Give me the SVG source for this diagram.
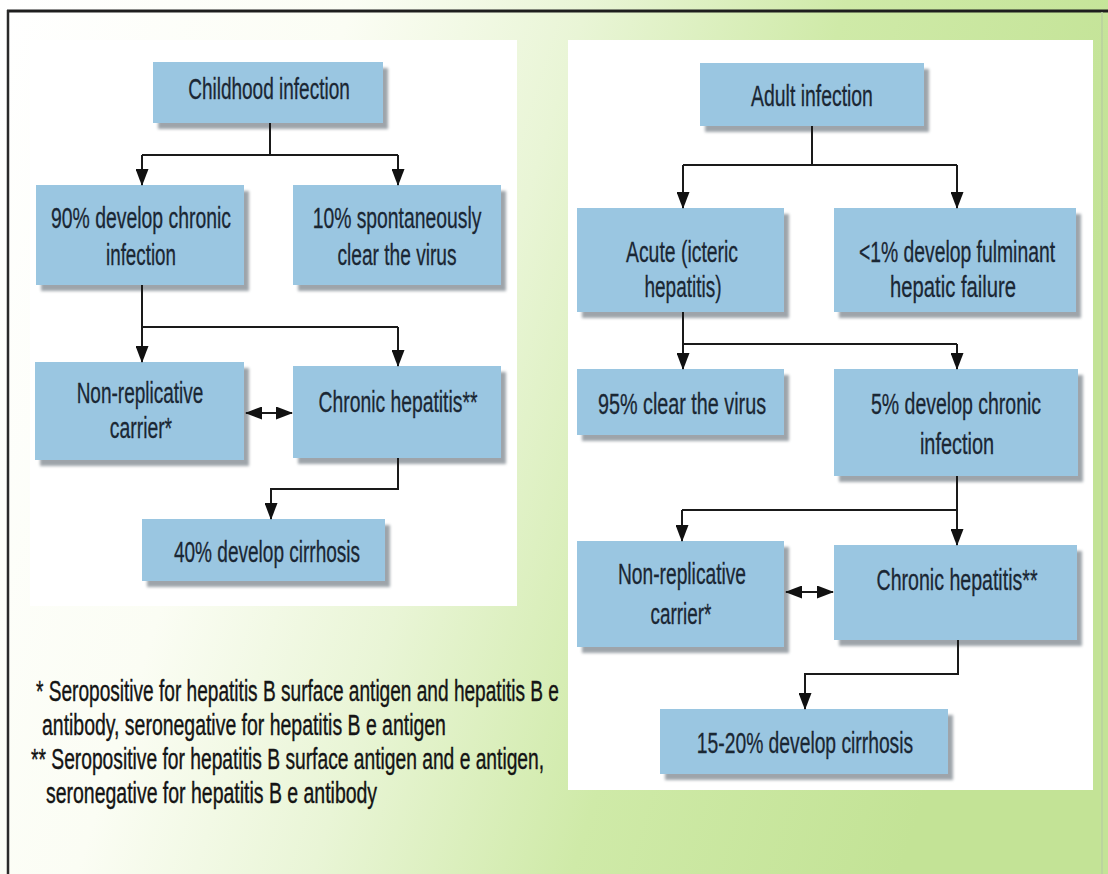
<svg xmlns="http://www.w3.org/2000/svg" width="1108" height="874" viewBox="0 0 1108 874">
<defs>
<linearGradient id="bg" x1="0" y1="0" x2="1" y2="0.25">
<stop offset="0" stop-color="#ffffff"/>
<stop offset="0.3" stop-color="#fbfdf4"/>
<stop offset="0.5" stop-color="#e9f5d6"/>
<stop offset="0.72" stop-color="#cfeaa8"/>
<stop offset="1" stop-color="#c3e396"/>
</linearGradient>
<filter id="blur" x="-10%" y="-10%" width="120%" height="130%">
<feGaussianBlur stdDeviation="1.5"/>
</filter>
<marker id="ah" markerUnits="userSpaceOnUse" markerWidth="17" markerHeight="13" viewBox="0 0 17 13" refX="16" refY="6.5" orient="auto-start-reverse">
<path d="M0,0 L17,6.5 L0,13 Z" fill="#111"/>
</marker>
</defs>
<style>
.box{fill:#9ac6e1}
.sh{fill:#9ea4aa;filter:url(#blur)}
.t{font-family:"Liberation Sans",Arial,sans-serif;font-size:29px;fill:#1a2734;text-anchor:middle;stroke:#1a2734;stroke-width:0.3}
.fn{font-family:"Liberation Sans",Arial,sans-serif;font-size:29px;fill:#141414;stroke:#141414;stroke-width:0.4}
.ln{fill:none;stroke:#1a1a1a;stroke-width:2}
</style>
<rect x="0" y="0" width="1108" height="874" fill="url(#bg)"/>
<rect x="30" y="40" width="487" height="566" fill="#ffffff"/>
<rect x="568" y="40" width="525" height="750" fill="#ffffff"/>
<line x1="7" y1="11" x2="1108" y2="11" stroke="#1e1e1e" stroke-width="3"/>
<line x1="8" y1="10" x2="8" y2="874" stroke="#2a2a2a" stroke-width="2.5"/>
<line x1="1102" y1="12" x2="1102" y2="874" stroke="#b8cfa0" stroke-width="1.5"/>

<g id="childhood"><rect class="sh" x="158" y="68" width="230" height="61"/><rect class="box" x="153" y="62" width="230" height="61"/><text class="t" transform="translate(269 99) scale(0.7 1)" textLength="231" lengthAdjust="spacingAndGlyphs">Childhood infection</text></g>
<g id="chronic90"><rect class="sh" x="41" y="191" width="208" height="100"/><rect class="box" x="36" y="185" width="208" height="100"/><text class="t" transform="translate(141 228) scale(0.7 1)" textLength="257" lengthAdjust="spacingAndGlyphs">90% develop chronic</text><text class="t" transform="translate(141 265) scale(0.7 1)" textLength="100" lengthAdjust="spacingAndGlyphs">infection</text></g>
<g id="clear10"><rect class="sh" x="298" y="191" width="208" height="100"/><rect class="box" x="293" y="185" width="208" height="100"/><text class="t" transform="translate(397 228) scale(0.7 1)" textLength="241" lengthAdjust="spacingAndGlyphs">10% spontaneously</text><text class="t" transform="translate(397 265) scale(0.7 1)" textLength="170" lengthAdjust="spacingAndGlyphs">clear the virus</text></g>
<g id="nonrep-left"><rect class="sh" x="40" y="368" width="209" height="98"/><rect class="box" x="35" y="362" width="209" height="98"/><text class="t" transform="translate(140 403) scale(0.7 1)" textLength="181" lengthAdjust="spacingAndGlyphs">Non-replicative</text><text class="t" transform="translate(141 438) scale(0.7 1)" textLength="89" lengthAdjust="spacingAndGlyphs">carrier*</text></g>
<g id="chronhep-left"><rect class="sh" x="298" y="372" width="208" height="92"/><rect class="box" x="293" y="366" width="208" height="92"/><text class="t" transform="translate(398 412) scale(0.7 1)" textLength="227" lengthAdjust="spacingAndGlyphs">Chronic hepatitis**</text></g>
<g id="cirrhosis40"><rect class="sh" x="147" y="525" width="243" height="62"/><rect class="box" x="142" y="519" width="243" height="62"/><text class="t" transform="translate(267 562) scale(0.7 1)" textLength="266" lengthAdjust="spacingAndGlyphs">40% develop cirrhosis</text></g>

<g id="adult"><rect class="sh" x="705" y="69" width="224" height="63"/><rect class="box" x="700" y="63" width="224" height="63"/><text class="t" transform="translate(812 106) scale(0.7 1)" textLength="174" lengthAdjust="spacingAndGlyphs">Adult infection</text></g>
<g id="acute"><rect class="sh" x="582" y="214" width="207" height="104"/><rect class="box" x="577" y="208" width="207" height="104"/><text class="t" transform="translate(682 262) scale(0.7 1)" textLength="160" lengthAdjust="spacingAndGlyphs">Acute (icteric</text><text class="t" transform="translate(683 297) scale(0.7 1)" textLength="110" lengthAdjust="spacingAndGlyphs">hepatitis)</text></g>
<g id="fulminant"><rect class="sh" x="839" y="214" width="242" height="104"/><rect class="box" x="834" y="208" width="242" height="104"/><text class="t" transform="translate(957 262) scale(0.7 1)" textLength="280" lengthAdjust="spacingAndGlyphs">&lt;1% develop fulminant</text><text class="t" transform="translate(953 297) scale(0.7 1)" textLength="180" lengthAdjust="spacingAndGlyphs">hepatic failure</text></g>
<g id="clear95"><rect class="sh" x="582" y="375" width="207" height="66"/><rect class="box" x="577" y="369" width="207" height="66"/><text class="t" transform="translate(682 414) scale(0.7 1)" textLength="240" lengthAdjust="spacingAndGlyphs">95% clear the virus</text></g>
<g id="chronic5"><rect class="sh" x="839" y="375" width="244" height="107"/><rect class="box" x="834" y="369" width="244" height="107"/><text class="t" transform="translate(956 414) scale(0.7 1)" textLength="243" lengthAdjust="spacingAndGlyphs">5% develop chronic</text><text class="t" transform="translate(957 454) scale(0.7 1)" textLength="106" lengthAdjust="spacingAndGlyphs">infection</text></g>
<g id="nonrep-right"><rect class="sh" x="582" y="547" width="207" height="106"/><rect class="box" x="577" y="541" width="207" height="106"/><text class="t" transform="translate(682 584) scale(0.7 1)" textLength="183" lengthAdjust="spacingAndGlyphs">Non-replicative</text><text class="t" transform="translate(681 624) scale(0.7 1)" textLength="87" lengthAdjust="spacingAndGlyphs">carrier*</text></g>
<g id="chronhep-right"><rect class="sh" x="839" y="551" width="243" height="95"/><rect class="box" x="834" y="545" width="243" height="95"/><text class="t" transform="translate(957 590) scale(0.7 1)" textLength="230" lengthAdjust="spacingAndGlyphs">Chronic hepatitis**</text></g>
<g id="cirrhosis15"><rect class="sh" x="665" y="715" width="288" height="65"/><rect class="box" x="660" y="709" width="288" height="65"/><text class="t" transform="translate(805 753) scale(0.7 1)" textLength="309" lengthAdjust="spacingAndGlyphs">15-20% develop cirrhosis</text></g>

<g id="connectors">
<path class="ln" d="M270,123 V155 M142,155 H398"/>
<path class="ln" d="M142,155 V185" marker-end="url(#ah)"/>
<path class="ln" d="M398,155 V185" marker-end="url(#ah)"/>
<path class="ln" d="M142,285 V327 H398"/>
<path class="ln" d="M142,327 V362" marker-end="url(#ah)"/>
<path class="ln" d="M398,327 V366" marker-end="url(#ah)"/>
<path class="ln" d="M246,413 H292" marker-start="url(#ah)" marker-end="url(#ah)"/>
<path class="ln" d="M398,458 V489 H271 V519" marker-end="url(#ah)"/>
<path class="ln" d="M812,126 V165 M683,165 H957"/>
<path class="ln" d="M683,165 V208" marker-end="url(#ah)"/>
<path class="ln" d="M957,165 V208" marker-end="url(#ah)"/>
<path class="ln" d="M683,312 V344 H957"/>
<path class="ln" d="M683,344 V369" marker-end="url(#ah)"/>
<path class="ln" d="M957,344 V369" marker-end="url(#ah)"/>
<path class="ln" d="M957,476 V510 H682"/>
<path class="ln" d="M682,510 V541" marker-end="url(#ah)"/>
<path class="ln" d="M957,510 V545" marker-end="url(#ah)"/>
<path class="ln" d="M786,592 H833" marker-start="url(#ah)" marker-end="url(#ah)"/>
<path class="ln" d="M958,640 V674 H805 V709" marker-end="url(#ah)"/>
</g>

<g id="footnotes">
<text class="fn" transform="translate(36 701) scale(0.7 1)" textLength="747" lengthAdjust="spacingAndGlyphs">* Seropositive for hepatitis B surface antigen and hepatitis B e</text>
<text class="fn" transform="translate(42 735) scale(0.7 1)" textLength="577" lengthAdjust="spacingAndGlyphs">antibody, seronegative for hepatitis B e antigen</text>
<text class="fn" transform="translate(31 769) scale(0.7 1)" textLength="733" lengthAdjust="spacingAndGlyphs">** Seropositive for hepatitis B surface antigen and e antigen,</text>
<text class="fn" transform="translate(46 803) scale(0.7 1)" textLength="473" lengthAdjust="spacingAndGlyphs">seronegative for hepatitis B e antibody</text>
</g>
</svg>
